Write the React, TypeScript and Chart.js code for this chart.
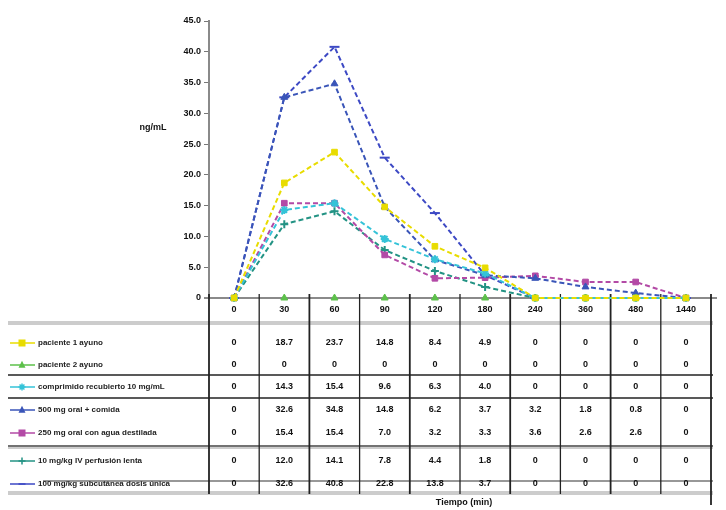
import React, { useEffect, useRef } from "react";
import { Chart, registerables } from "chart.js";

Chart.register(...registerables);

const categories = ["0", "30", "60", "90", "120", "180", "240", "360", "480", "1440"];
const seriesNames = [
  "paciente 1 ayuno",
  "paciente 2 ayuno",
  "comprimido recubierto 10 mg/mL",
  "500 mg oral + comida",
  "250 mg oral con agua destilada",
  "10 mg/kg IV perfusión lenta",
  "100 mg/kg subcutánea dosis única",
];
const serie1 = [0, 18.7, 23.7, 14.8, 8.4, 4.9, 0, 0, 0, 0];
const serie2 = [0, 0, 0, 0, 0, 0, 0, 0, 0, 0];
const serie3 = [0, 14.3, 15.4, 9.6, 6.3, 4.0, 0, 0, 0, 0];
const serie4 = [0, 32.6, 34.8, 14.8, 6.2, 3.7, 3.2, 1.8, 0.8, 0];
const serie5 = [0, 15.4, 15.4, 7.0, 3.2, 3.3, 3.6, 2.6, 2.6, 0];
const serie6 = [0, 12.0, 14.1, 7.8, 4.4, 1.8, 0, 0, 0, 0];
const serie7 = [0, 32.6, 40.8, 22.8, 13.8, 3.7, 0, 0, 0, 0];
const yTicks = [0, 5, 10, 15, 20, 25, 30, 35, 40, 45];
const yTitle = "ng/mL";
const xTitle = "Tiempo (min)";

const seriesValues = [serie1, serie2, serie3, serie4, serie5, serie6, serie7];
const colors = ["#e8dc00", "#5cc04a", "#35c3d8", "#3a55b8", "#b34aa6", "#239384", "#3d49c4"];
const pointStyles = ["rect", "triangle", "star", "triangle", "rect", "cross", "line"];

const fmt = (v: number) => (v === 0 ? "0" : v.toFixed(1));

function drawMarker(ctx: CanvasRenderingContext2D, style: string, x: number, y: number, r: number, color: string) {
  ctx.save();
  ctx.fillStyle = color;
  ctx.strokeStyle = color;
  ctx.lineWidth = 1.5;
  ctx.setLineDash([]);
  ctx.beginPath();
  if (style === "rect") {
    ctx.fillRect(x - r, y - r, 2 * r, 2 * r);
  } else if (style === "triangle") {
    ctx.moveTo(x, y - r * 1.2);
    ctx.lineTo(x + r, y + r * 0.8);
    ctx.lineTo(x - r, y + r * 0.8);
    ctx.closePath();
    ctx.fill();
  } else if (style === "star") {
    ctx.moveTo(x - r, y); ctx.lineTo(x + r, y);
    ctx.moveTo(x, y - r); ctx.lineTo(x, y + r);
    ctx.moveTo(x - r * 0.7, y - r * 0.7); ctx.lineTo(x + r * 0.7, y + r * 0.7);
    ctx.moveTo(x + r * 0.7, y - r * 0.7); ctx.lineTo(x - r * 0.7, y + r * 0.7);
    ctx.stroke();
  } else if (style === "cross") {
    ctx.moveTo(x - r, y); ctx.lineTo(x + r, y);
    ctx.moveTo(x, y - r); ctx.lineTo(x, y + r);
    ctx.stroke();
  } else {
    ctx.moveTo(x - r, y); ctx.lineTo(x + r, y);
    ctx.stroke();
  }
  ctx.restore();
}

const tablePlugin = {
  id: "dataTable",
  beforeDatasetsDraw(chart: any) {
    const { ctx, chartArea, scales } = chart;
    const x = scales.x;
    const b = chartArea.bottom;
    const left = chartArea.left;
    const right = chartArea.right;
    const c0 = x.getPixelForValue(0);
    const half = (x.getPixelForValue(1) - c0) / 2;
    const tableLeft = 0;
    ctx.save();
    // x axis line
    ctx.strokeStyle = "#8a8a8a";
    ctx.lineWidth = 2;
    ctx.beginPath();
    ctx.moveTo(left - 5, b);
    ctx.lineTo(right + 6, b);
    ctx.stroke();

    // horizontal table lines
    const hLine = (dy: number, color: string, w: number, x0 = tableLeft) => {
      ctx.strokeStyle = color;
      ctx.lineWidth = w;
      ctx.beginPath();
      ctx.moveTo(x0, b + dy);
      ctx.lineTo(right + 2, b + dy);
      ctx.stroke();
    };
    hLine(24, "#9a9a9a", 1.2);
    hLine(26, "#9a9a9a", 1.2);
    hLine(77, "#222", 1.6);
    hLine(100, "#222", 1.6);
    hLine(148, "#444", 1.4);
    hLine(150, "#9a9a9a", 1);
    hLine(183, "#333", 1.2, 35);
    hLine(194, "#9a9a9a", 1.2);
    hLine(196, "#9a9a9a", 1.2);

    // vertical column lines
    for (let i = 0; i <= categories.length; i++) {
      const xx = c0 - half + i * 2 * half;
      ctx.strokeStyle = "#222";
      ctx.lineWidth = i % 2 === 0 ? 1.8 : 1.3;
      ctx.beginPath();
      ctx.moveTo(xx, b - 4);
      ctx.lineTo(xx, i === categories.length ? b + 207 : b + 196);
      ctx.stroke();
    }

    // category labels
    ctx.fillStyle = "#111";
    ctx.font = "bold 9px 'Liberation Sans', Arial, sans-serif";
    ctx.textAlign = "center";
    ctx.textBaseline = "middle";
    categories.forEach((c, i) => {
      ctx.fillText(c, x.getPixelForValue(i), b + 12);
    });

    // rows
    const rowY = [45, 67, 89, 112, 135, 163, 186];
    seriesValues.forEach((vals, s) => {
      const yy = b + rowY[s];
      ctx.fillStyle = "#111";
      ctx.font = "bold 9px 'Liberation Sans', Arial, sans-serif";
      ctx.textAlign = "center";
      vals.forEach((v, i) => ctx.fillText(fmt(v), x.getPixelForValue(i), yy));
      // legend key
      ctx.strokeStyle = colors[s];
      ctx.lineWidth = 1.5;
      ctx.beginPath();
      ctx.moveTo(2, yy);
      ctx.lineTo(27, yy);
      ctx.stroke();
      drawMarker(ctx, pointStyles[s], 14, yy, 3.5, colors[s]);
      ctx.fillStyle = "#222";
      ctx.font = "bold 8px 'Liberation Sans', Arial, sans-serif";
      ctx.textAlign = "left";
      ctx.fillText(seriesNames[s], 30, yy);
    });

    // titles
    ctx.fillStyle = "#111";
    ctx.font = "bold 9px 'Liberation Sans', Arial, sans-serif";
    ctx.textAlign = "center";
    ctx.fillText(yTitle, 145, 120);
    ctx.fillText(xTitle, (left + right) / 2 + 4, b + 205);
    ctx.restore();
  },
};

export default function App() {
  const ref = useRef<HTMLCanvasElement | null>(null);
  useEffect(() => {
    if (!ref.current) return;
    const chart = new Chart(ref.current, {
      type: "line",
      data: {
        labels: categories,
        datasets: seriesValues.map((vals, s) => ({
          label: seriesNames[s],
          data: vals,
          borderColor: colors[s],
          backgroundColor: colors[s],
          borderWidth: 2,
          borderDash: [5, 3],
          showLine: s !== 1,
          pointStyle: pointStyles[s] as any,
          pointRadius: s === 6 ? 5 : 4,
          pointBorderWidth: s === 2 || s === 5 || s === 6 ? 2 : 1,
          tension: 0,
          clip: false as any,
        })),
      },
      options: {
        animation: false,
        responsive: true,
        maintainAspectRatio: false,
        layout: { padding: { left: 0, right: 6, top: 13, bottom: 212 } },
        plugins: { legend: { display: false }, tooltip: { enabled: false } },
        scales: {
          x: { type: "category", display: false, offset: true },
          y: {
            min: 0,
            max: 45,
            afterFit: (scale: any) => {
              scale.width = 201;
            },
            afterBuildTicks: (scale: any) => {
              scale.ticks = yTicks.map((v) => ({ value: v }));
            },
            ticks: {
              color: "#111",
              font: { family: "'Liberation Sans', Arial, sans-serif", size: 9, weight: "bold" },
              padding: 3,
              callback: (v: any) => fmt(Number(v)),
            },
            grid: { drawOnChartArea: false, drawTicks: true, tickLength: 5, color: "#777" },
            border: { display: true, color: "#8a8a8a", width: 2 },
          },
        },
      },
      plugins: [tablePlugin],
    });
    return () => chart.destroy();
  }, []);
  return (
    <div style={{ width: 710, height: 502, position: "absolute", left: 8, top: 8 }}>
      <canvas ref={ref} />
    </div>
  );
}
